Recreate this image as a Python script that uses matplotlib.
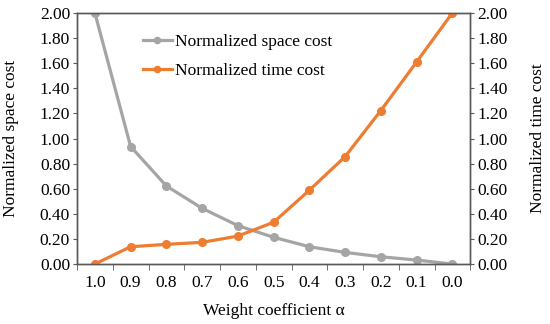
import matplotlib.pyplot as plt

plt.rcParams['font.family'] = ['Liberation Serif', 'DejaVu Serif']

alpha_labels = ['1.0', '0.9', '0.8', '0.7', '0.6', '0.5', '0.4', '0.3', '0.2', '0.1', '0.0']
space_cost = [2.00, 0.936, 0.622, 0.444, 0.306, 0.213, 0.138, 0.093, 0.058, 0.032, 0.00]
time_cost = [0.00, 0.138, 0.157, 0.173, 0.223, 0.333, 0.588, 0.856, 1.223, 1.61, 2.00]
y_ticks = [0.0, 0.2, 0.4, 0.6, 0.8, 1.0, 1.2, 1.4, 1.6, 1.8, 2.0]

gray = '#A5A5A5'
orange = '#ED7D31'
frame = '#595959'
fs = 12.5

fig, ax = plt.subplots(figsize=(5.5, 3.24), dpi=100)
fig.subplots_adjust(left=0.14, right=0.855, top=0.96, bottom=0.185)
ax2 = ax.twinx()

x = list(range(len(alpha_labels)))
l1, = ax.plot(x, space_cost, color=gray, lw=2.3, marker='o', ms=5.5,
              label='Normalized space cost')
l2, = ax2.plot(x, time_cost, color=orange, lw=2.3, marker='o', ms=5.5,
               label='Normalized time cost')

for a in (ax, ax2):
    a.set_ylim(0, 2.0)
    a.set_yticks(y_ticks)
    a.set_yticklabels([f'{v:.2f}' for v in y_ticks])
    a.tick_params(axis='y', labelsize=fs, direction='out', length=3,
                  color=frame, pad=2)
    for s in a.spines.values():
        s.set_color(frame)
        s.set_linewidth(1.0)

ax.set_xlim(-0.5, len(alpha_labels) - 0.5)
ax.set_xticks(x)
ax.set_xticklabels(alpha_labels)
ax.set_xticks([i - 0.5 for i in range(len(alpha_labels) + 1)], minor=True)
ax.tick_params(axis='x', which='major', length=0, labelsize=fs, pad=8)
ax.tick_params(axis='x', which='minor', length=4, direction='out', color=frame)

ax.set_xlabel('Weight coefficient α', fontsize=fs)
ax.set_ylabel('Normalized space cost', fontsize=fs)
ax2.set_ylabel('Normalized time cost', fontsize=fs)
ax.xaxis.set_label_coords(0.5, -0.155)
ax.yaxis.set_label_coords(-0.148, 0.5)
ax2.yaxis.set_label_coords(1.153, 0.5)

ax.legend(handles=[l1, l2], loc='upper left', bbox_to_anchor=(0.168, 0.918),
          frameon=False, fontsize=fs, handlelength=1.65, handletextpad=0.2,
          labelspacing=0.76, borderpad=0, borderaxespad=0, markerscale=0.8)

plt.savefig('out.png', dpi=100)
